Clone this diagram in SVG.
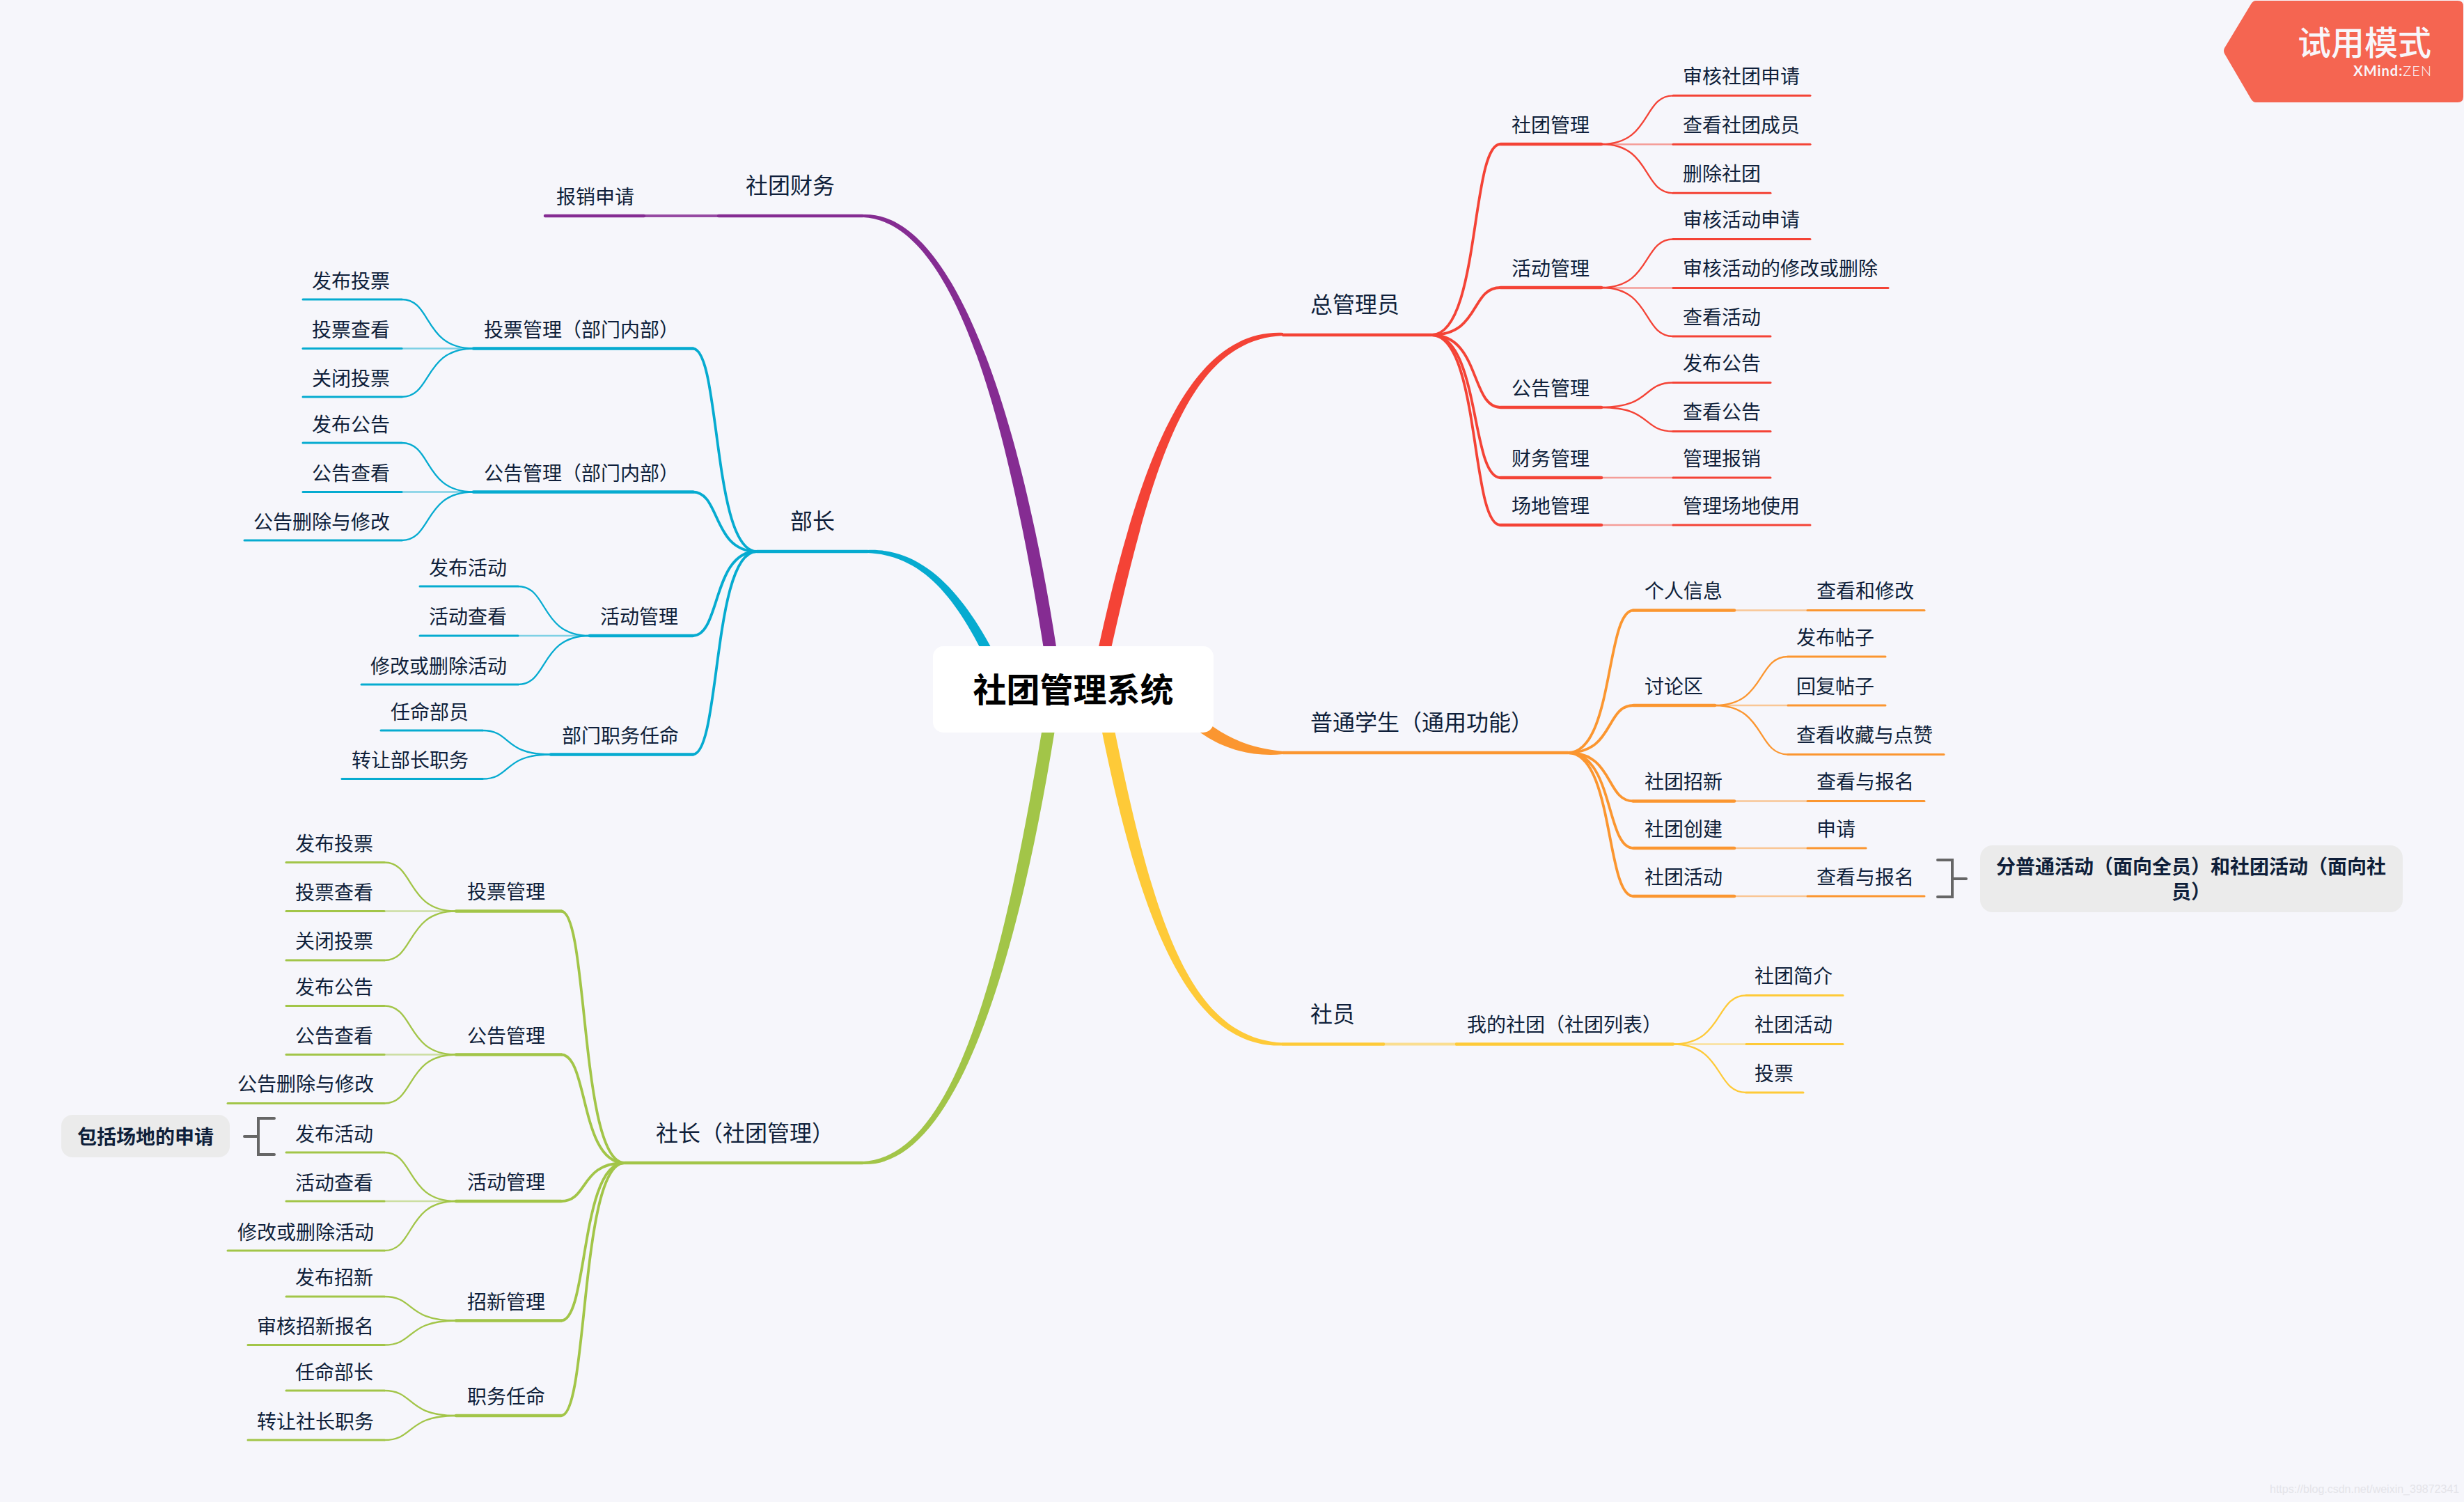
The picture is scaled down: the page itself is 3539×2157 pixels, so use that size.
<svg xmlns="http://www.w3.org/2000/svg" width="3539" height="2157" viewBox="0 0 3539 2157">
<style>
text{font-family:"Noto Sans CJK SC","Noto Sans",sans-serif;fill:#0f1f3a}
.t2{font-size:28px}
.t1{font-size:32px}
.nb{font-size:28px;font-weight:700;text-anchor:middle}
line{fill:none;stroke-linecap:round}
.u1{stroke-width:4.5px}
.u2{stroke-width:4.5px}
.u3{stroke-width:3px}
.pl{stroke-width:2.4px;stroke-opacity:.5}
.c1,.c2{fill:none}
.c1{stroke-width:3.8px}
.c2{stroke-width:2.3px}
.R{stroke:#f44336}.P{stroke:#852c92}.B{stroke:#06abd0}.G{stroke:#a2c548}.Y{stroke:#feca38}.O{stroke:#fb9630}
.note{fill:#ebebeb}
.br{fill:none;stroke:#666;stroke-width:4px;stroke-linecap:round}
</style>
<rect width="3539" height="2157" fill="#f6f6fb"/>
<g id="connectors">
<path fill="#852c92" d="M1239 308C1380 302 1478 640 1526 990L1508 990C1456 640 1380 318 1239 312Z"/>
<path fill="#06abd0" d="M1246 790C1340 786 1402 877 1452 987L1438 993C1388 883 1340 798 1246 794Z"/>
<path fill="#f44336" d="M1843 478C1700 472 1629 680 1565 990L1583 990C1651 680 1700 488 1843 482Z"/>
<path fill="#fb9630" d="M1843 1079C1790 1074 1752 1057 1706 1014L1694 1026C1738 1072 1790 1088 1843 1083Z"/>
<path fill="#a2c548" d="M1239 1672C1380 1678 1471 1350 1524 990L1506 990C1449 1350 1380 1662 1239 1668Z"/>
<path fill="#feca38" d="M1843 1501.500C1700 1507 1629 1300 1571 990L1589 990C1651 1300 1700 1491 1843 1497.500Z"/>
<g class="c1 R">
<path d="M2155 207C2112 207 2126 481 2056 481"/><path d="M2155 413C2112 413 2126 481 2056 481"/><path d="M2155 585C2112 585 2126 481 2056 481"/><path d="M2155 686C2112 686 2126 481 2056 481"/><path d="M2155 754C2112 754 2126 481 2056 481"/>
</g>
<g class="c2 R">
<path d="M2403 137.300C2359 137.300 2372 207 2300 207"/><path d="M2403 277.300C2359 277.300 2372 207 2300 207"/>
<path d="M2403 343.500C2359 343.500 2372 413 2300 413"/><path d="M2403 483C2359 483 2372 413 2300 413"/>
<path d="M2403 549.500C2359 549.500 2372 585 2300 585"/><path d="M2403 619.500C2359 619.500 2372 585 2300 585"/>
</g>
<g class="R pl">
<line x1="2300" y1="207.300" x2="2403" y2="207.300"/><line x1="2300" y1="413.500" x2="2403" y2="413.500"/><line x1="2300" y1="686" x2="2403" y2="686"/><line x1="2300" y1="754" x2="2403" y2="754"/>
</g>
<g class="c1 O">
<path d="M2346 876.500C2306 876.500 2318 1081 2252 1081"/><path d="M2346 1013C2306 1013 2318 1081 2252 1081"/><path d="M2346 1150.500C2306 1150.500 2318 1081 2252 1081"/><path d="M2346 1218C2306 1218 2318 1081 2252 1081"/><path d="M2346 1287C2306 1287 2318 1081 2252 1081"/>
</g>
<g class="c2 O">
<path d="M2568 943C2523 943 2536 1013 2463 1013"/><path d="M2568 1083.500C2523 1083.500 2536 1013 2463 1013"/>
</g>
<g class="O pl">
<line x1="2491" y1="876.500" x2="2596" y2="876.500"/><line x1="2463" y1="1013" x2="2568" y2="1013"/><line x1="2491" y1="1150.500" x2="2596" y2="1150.500"/><line x1="2491" y1="1218" x2="2596" y2="1218"/><line x1="2491" y1="1287" x2="2596" y2="1287"/>
</g>
<g class="Y pl">
<line x1="1987" y1="1499.500" x2="2092" y2="1499.500" style="stroke-width:4px;stroke-opacity:.55"/><line x1="2403" y1="1499.500" x2="2508" y2="1499.500"/>
</g>
<g class="c2 Y">
<path d="M2508 1429.500C2463 1429.500 2476 1499.500 2403 1499.500"/><path d="M2508 1569C2463 1569 2476 1499.500 2403 1499.500"/>
</g>
<g class="P pl"><line x1="925" y1="310" x2="1032" y2="310" style="stroke-width:4px;stroke-opacity:.85"/></g>
<g class="c1 B">
<path d="M995 500.500C1035 500.500 1023 792 1087 792"/><path d="M995 706.500C1035 706.500 1023 792 1087 792"/><path d="M995 913C1035 913 1023 792 1087 792"/><path d="M995 1083.500C1035 1083.500 1023 792 1087 792"/>
</g>
<g class="c2 B">
<path d="M577 430C621 430 608 500.500 680 500.500"/><path d="M577 570C621 570 608 500.500 680 500.500"/>
<path d="M577 636C621 636 608 706.500 680 706.500"/><path d="M577 776C621 776 608 706.500 680 706.500"/>
<path d="M744 842C788 842 775 913 847 913"/><path d="M744 983C788 983 775 913 847 913"/>
<path d="M693 1049C735 1049 722 1083.500 791 1083.500"/><path d="M693 1118.500C735 1118.500 722 1083.500 791 1083.500"/>
</g>
<g class="B pl">
<line x1="577" y1="500.500" x2="680" y2="500.500"/><line x1="577" y1="706.500" x2="680" y2="706.500"/><line x1="744" y1="913" x2="847" y2="913"/>
</g>
<g class="c1 G">
<path d="M806 1308.500C845 1308.500 833 1670 897 1670"/><path d="M806 1514.500C845 1514.500 833 1670 897 1670"/><path d="M806 1725C845 1725 833 1670 897 1670"/><path d="M806 1896.500C845 1896.500 833 1670 897 1670"/><path d="M806 2033C845 2033 833 1670 897 1670"/>
</g>
<g class="c2 G">
<path d="M552 1238.500C596 1238.500 583 1308.500 655 1308.500"/><path d="M552 1379C596 1379 583 1308.500 655 1308.500"/>
<path d="M552 1444.500C596 1444.500 583 1514.500 655 1514.500"/><path d="M552 1584.500C596 1584.500 583 1514.500 655 1514.500"/>
<path d="M552 1655C596 1655 583 1725 655 1725"/><path d="M552 1796C596 1796 583 1725 655 1725"/>
<path d="M552 1862C596 1862 583 1896.500 655 1896.500"/><path d="M552 1931.500C596 1931.500 583 1896.500 655 1896.500"/>
<path d="M552 1997C596 1997 583 2033 655 2033"/><path d="M552 2068C596 2068 583 2033 655 2033"/>
</g>
<g class="G pl">
<line x1="552" y1="1308.500" x2="655" y2="1308.500"/><line x1="552" y1="1514.500" x2="655" y2="1514.500"/><line x1="552" y1="1725" x2="655" y2="1725"/>
</g>
</g>
<g id="n-center"><rect x="1340" y="928" width="403" height="124" rx="15" fill="#fff"/><text x="1541.500" y="1008" text-anchor="middle" style="font-size:48px;font-weight:700;fill:#000">社团管理系统</text></g>
<g id="n-zong"><line class="u1 R" x1="1843" y1="481" x2="2056" y2="481"/><text class="t1" x="1882" y="449">总管理员</text></g>
<g id="n-a1"><line class="u2 R" x1="2155" y1="207" x2="2300" y2="207"/><text class="t2" x="2171" y="190">社团管理</text></g>
<g id="n-a11"><line class="u3 R" x1="2403" y1="137.300" x2="2600" y2="137.300"/><text class="t2" x="2417" y="120">审核社团申请</text></g>
<g id="n-a12"><line class="u3 R" x1="2403" y1="207.300" x2="2600" y2="207.300"/><text class="t2" x="2417" y="190">查看社团成员</text></g>
<g id="n-a13"><line class="u3 R" x1="2403" y1="277.300" x2="2543" y2="277.300"/><text class="t2" x="2417" y="260">删除社团</text></g>
<g id="n-a2"><line class="u2 R" x1="2155" y1="413" x2="2300" y2="413"/><text class="t2" x="2171" y="396">活动管理</text></g>
<g id="n-a21"><line class="u3 R" x1="2403" y1="343.500" x2="2600" y2="343.500"/><text class="t2" x="2417" y="326">审核活动申请</text></g>
<g id="n-a22"><line class="u3 R" x1="2403" y1="413.500" x2="2712" y2="413.500"/><text class="t2" x="2417" y="396">审核活动的修改或删除</text></g>
<g id="n-a23"><line class="u3 R" x1="2403" y1="483" x2="2543" y2="483"/><text class="t2" x="2417" y="466">查看活动</text></g>
<g id="n-a3"><line class="u2 R" x1="2155" y1="585" x2="2300" y2="585"/><text class="t2" x="2171" y="568">公告管理</text></g>
<g id="n-a31"><line class="u3 R" x1="2403" y1="549.500" x2="2543" y2="549.500"/><text class="t2" x="2417" y="532">发布公告</text></g>
<g id="n-a32"><line class="u3 R" x1="2403" y1="619.500" x2="2543" y2="619.500"/><text class="t2" x="2417" y="602">查看公告</text></g>
<g id="n-a4"><line class="u2 R" x1="2155" y1="686" x2="2300" y2="686"/><text class="t2" x="2171" y="669">财务管理</text></g>
<g id="n-a41"><line class="u3 R" x1="2403" y1="686" x2="2543" y2="686"/><text class="t2" x="2417" y="669">管理报销</text></g>
<g id="n-a5"><line class="u2 R" x1="2155" y1="754" x2="2300" y2="754"/><text class="t2" x="2171" y="737">场地管理</text></g>
<g id="n-a51"><line class="u3 R" x1="2403" y1="754" x2="2600" y2="754"/><text class="t2" x="2417" y="737">管理场地使用</text></g>
<g id="n-stu"><line class="u1 O" x1="1843" y1="1081" x2="2252" y2="1081"/><text class="t1" x="1882" y="1049">普通学生（通用功能）</text></g>
<g id="n-b1"><line class="u2 O" x1="2346" y1="876.500" x2="2491" y2="876.500"/><text class="t2" x="2362" y="859">个人信息</text></g>
<g id="n-b11"><line class="u3 O" x1="2596" y1="876.500" x2="2764" y2="876.500"/><text class="t2" x="2609" y="859">查看和修改</text></g>
<g id="n-b2"><line class="u2 O" x1="2346" y1="1013" x2="2463" y2="1013"/><text class="t2" x="2362" y="996">讨论区</text></g>
<g id="n-b21"><line class="u3 O" x1="2568" y1="943" x2="2708" y2="943"/><text class="t2" x="2580" y="926">发布帖子</text></g>
<g id="n-b22"><line class="u3 O" x1="2568" y1="1013" x2="2708" y2="1013"/><text class="t2" x="2580" y="996">回复帖子</text></g>
<g id="n-b23"><line class="u3 O" x1="2568" y1="1083.500" x2="2792" y2="1083.500"/><text class="t2" x="2580" y="1066">查看收藏与点赞</text></g>
<g id="n-b3"><line class="u2 O" x1="2346" y1="1150.500" x2="2491" y2="1150.500"/><text class="t2" x="2362" y="1133">社团招新</text></g>
<g id="n-b31"><line class="u3 O" x1="2596" y1="1150.500" x2="2764" y2="1150.500"/><text class="t2" x="2609" y="1133">查看与报名</text></g>
<g id="n-b4"><line class="u2 O" x1="2346" y1="1218" x2="2491" y2="1218"/><text class="t2" x="2362" y="1201">社团创建</text></g>
<g id="n-b41"><line class="u3 O" x1="2596" y1="1218" x2="2680" y2="1218"/><text class="t2" x="2609" y="1201">申请</text></g>
<g id="n-b5"><line class="u2 O" x1="2346" y1="1287" x2="2491" y2="1287"/><text class="t2" x="2362" y="1270">社团活动</text></g>
<g id="n-b51"><line class="u3 O" x1="2596" y1="1287" x2="2764" y2="1287"/><text class="t2" x="2609" y="1270">查看与报名</text></g>
<g id="n-note1"><path class="br" d="M2783 1235H2804V1288H2783M2804 1262H2824"/><rect class="note" x="2844" y="1214" width="607" height="96" rx="18"/><text class="nb" x="3147" y="1255">分普通活动（面向全员）和社团活动（面向社</text><text class="nb" x="3147" y="1291">员）</text></g>
<g id="n-mem"><line class="u1 Y" x1="1843" y1="1499.500" x2="1987" y2="1499.500"/><text class="t1" x="1882" y="1468">社员</text></g>
<g id="n-c1"><line class="u2 Y" x1="2092" y1="1499.500" x2="2403" y2="1499.500"/><text class="t2" x="2107" y="1482">我的社团（社团列表）</text></g>
<g id="n-c11"><line class="u3 Y" x1="2508" y1="1429.500" x2="2647" y2="1429.500"/><text class="t2" x="2520" y="1412">社团简介</text></g>
<g id="n-c12"><line class="u3 Y" x1="2508" y1="1499.500" x2="2647" y2="1499.500"/><text class="t2" x="2520" y="1482">社团活动</text></g>
<g id="n-c13"><line class="u3 Y" x1="2508" y1="1569" x2="2590" y2="1569"/><text class="t2" x="2520" y="1552">投票</text></g>
<g id="n-fin"><line class="u1 P" x1="1032" y1="310" x2="1239" y2="310"/><text class="t1" x="1071" y="278">社团财务</text></g>
<g id="n-d1"><line class="u1 P" x1="783" y1="310" x2="925" y2="310"/><text class="t2" x="799" y="293">报销申请</text></g>
<g id="n-dept"><line class="u1 B" x1="1087" y1="792" x2="1246" y2="792"/><text class="t1" x="1135" y="760">部长</text></g>
<g id="n-e1"><line class="u2 B" x1="680" y1="500.500" x2="995" y2="500.500"/><text class="t2" x="695" y="484">投票管理（部门内部）</text></g>
<g id="n-e11"><line class="u3 B" x1="435" y1="430" x2="577" y2="430"/><text class="t2" x="448" y="414">发布投票</text></g>
<g id="n-e12"><line class="u3 B" x1="435" y1="500.500" x2="577" y2="500.500"/><text class="t2" x="448" y="484">投票查看</text></g>
<g id="n-e13"><line class="u3 B" x1="435" y1="570" x2="577" y2="570"/><text class="t2" x="448" y="554">关闭投票</text></g>
<g id="n-e2"><line class="u2 B" x1="680" y1="706.500" x2="995" y2="706.500"/><text class="t2" x="695" y="690">公告管理（部门内部）</text></g>
<g id="n-e21"><line class="u3 B" x1="435" y1="636" x2="577" y2="636"/><text class="t2" x="448" y="620">发布公告</text></g>
<g id="n-e22"><line class="u3 B" x1="435" y1="706.500" x2="577" y2="706.500"/><text class="t2" x="448" y="690">公告查看</text></g>
<g id="n-e23"><line class="u3 B" x1="351" y1="776" x2="577" y2="776"/><text class="t2" x="364" y="760">公告删除与修改</text></g>
<g id="n-e3"><line class="u2 B" x1="847" y1="913" x2="995" y2="913"/><text class="t2" x="862" y="896">活动管理</text></g>
<g id="n-e31"><line class="u3 B" x1="603" y1="842" x2="744" y2="842"/><text class="t2" x="616" y="826">发布活动</text></g>
<g id="n-e32"><line class="u3 B" x1="603" y1="913" x2="744" y2="913"/><text class="t2" x="616" y="896">活动查看</text></g>
<g id="n-e33"><line class="u3 B" x1="519" y1="983" x2="744" y2="983"/><text class="t2" x="532" y="967">修改或删除活动</text></g>
<g id="n-e4"><line class="u2 B" x1="791" y1="1083.500" x2="995" y2="1083.500"/><text class="t2" x="807" y="1067">部门职务任命</text></g>
<g id="n-e41"><line class="u3 B" x1="547" y1="1049" x2="693" y2="1049"/><text class="t2" x="561" y="1033">任命部员</text></g>
<g id="n-e42"><line class="u3 B" x1="491" y1="1118.500" x2="693" y2="1118.500"/><text class="t2" x="505" y="1102">转让部长职务</text></g>
<g id="n-pres"><line class="u1 G" x1="897" y1="1670" x2="1239" y2="1670"/><text class="t1" x="942" y="1639">社长（社团管理）</text></g>
<g id="n-f1"><line class="u2 G" x1="655" y1="1308.500" x2="806" y2="1308.500"/><text class="t2" x="671" y="1291">投票管理</text></g>
<g id="n-f11"><line class="u3 G" x1="411" y1="1238.500" x2="552" y2="1238.500"/><text class="t2" x="424" y="1222">发布投票</text></g>
<g id="n-f12"><line class="u3 G" x1="411" y1="1308.500" x2="552" y2="1308.500"/><text class="t2" x="424" y="1292">投票查看</text></g>
<g id="n-f13"><line class="u3 G" x1="411" y1="1379" x2="552" y2="1379"/><text class="t2" x="424" y="1362">关闭投票</text></g>
<g id="n-f2"><line class="u2 G" x1="655" y1="1514.500" x2="806" y2="1514.500"/><text class="t2" x="671" y="1498">公告管理</text></g>
<g id="n-f21"><line class="u3 G" x1="411" y1="1444.500" x2="552" y2="1444.500"/><text class="t2" x="424" y="1428">发布公告</text></g>
<g id="n-f22"><line class="u3 G" x1="411" y1="1514.500" x2="552" y2="1514.500"/><text class="t2" x="424" y="1498">公告查看</text></g>
<g id="n-f23"><line class="u3 G" x1="327" y1="1584.500" x2="552" y2="1584.500"/><text class="t2" x="341" y="1567">公告删除与修改</text></g>
<g id="n-f3"><line class="u2 G" x1="655" y1="1725" x2="806" y2="1725"/><text class="t2" x="671" y="1708">活动管理</text></g>
<g id="n-f31"><line class="u3 G" x1="411" y1="1655" x2="552" y2="1655"/><text class="t2" x="424" y="1639">发布活动</text></g>
<g id="n-f32"><line class="u3 G" x1="411" y1="1725" x2="552" y2="1725"/><text class="t2" x="424" y="1709">活动查看</text></g>
<g id="n-f33"><line class="u3 G" x1="327" y1="1796" x2="552" y2="1796"/><text class="t2" x="341" y="1780">修改或删除活动</text></g>
<g id="n-f4"><line class="u2 G" x1="655" y1="1896.500" x2="806" y2="1896.500"/><text class="t2" x="671" y="1880">招新管理</text></g>
<g id="n-f41"><line class="u3 G" x1="411" y1="1862" x2="552" y2="1862"/><text class="t2" x="424" y="1845">发布招新</text></g>
<g id="n-f42"><line class="u3 G" x1="356" y1="1931.500" x2="552" y2="1931.500"/><text class="t2" x="369" y="1915">审核招新报名</text></g>
<g id="n-f5"><line class="u2 G" x1="655" y1="2033" x2="806" y2="2033"/><text class="t2" x="671" y="2016">职务任命</text></g>
<g id="n-f51"><line class="u3 G" x1="411" y1="1997" x2="552" y2="1997"/><text class="t2" x="424" y="1981">任命部长</text></g>
<g id="n-f52"><line class="u3 G" x1="356" y1="2068" x2="552" y2="2068"/><text class="t2" x="369" y="2052">转让社长职务</text></g>
<g id="n-note2"><path class="br" d="M394 1606H371V1658H394M371 1632H351"/><rect class="note" x="88" y="1601" width="242" height="61" rx="16"/><text class="nb" x="209" y="1643">包括场地的申请</text></g>
<g id="trial"><path d="M3240 1H3530Q3538 1 3538 9V139Q3538 147 3530 147H3240Q3236 147 3233 142L3195 77Q3193 73 3195 69L3233 6Q3236 1 3240 1Z" fill="#f56551"/><text x="3492" y="79" text-anchor="end" style="font-size:48px;font-weight:500;fill:#f8f6fa">试用模式</text><text x="3493" y="109" text-anchor="end" style="font-family:'Lato','Noto Sans',sans-serif;font-size:20px;fill:#f8f6fa"><tspan font-weight="700" letter-spacing="1">XMind:</tspan><tspan font-weight="300" letter-spacing="1">ZEN</tspan></text></g>
<text x="3260" y="2144" style="font-family:'Liberation Sans',sans-serif;font-size:16px;fill:#e4e4e9">https://blog.csdn.net/weixin_39872341</text>
</svg>
